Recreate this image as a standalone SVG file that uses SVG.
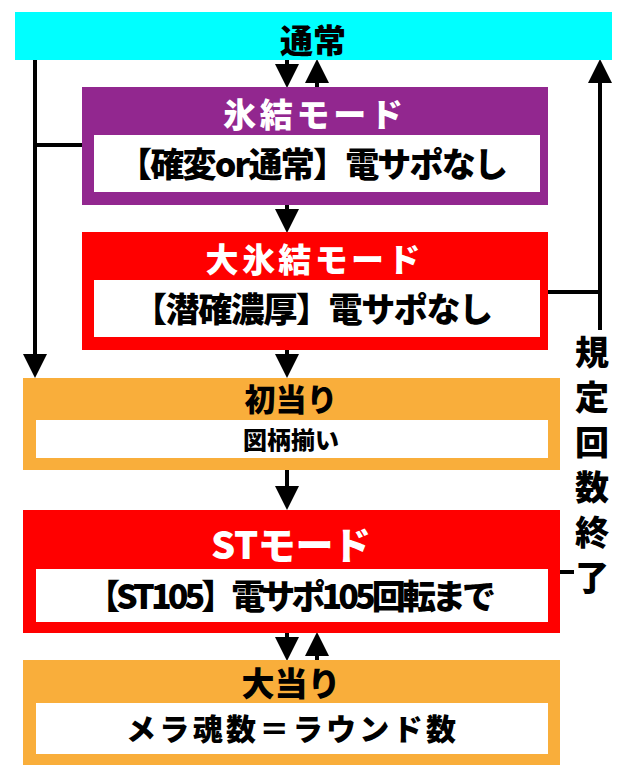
<svg xmlns="http://www.w3.org/2000/svg" width="640" height="780" viewBox="0 0 640 780">
<style>
text{font-family:"Noto Sans CJK JP","Noto Sans",sans-serif;font-weight:900;text-anchor:middle}
.t{font-size:33px}.w{fill:#fff}.b{fill:#000}.s{font-size:34px}
.in{fill:#fff}
.ln{stroke:#000;stroke-width:4;fill:none}
</style>
<defs><marker id="a" markerWidth="6" markerHeight="6" refX="5" refY="3" orient="auto" markerUnits="strokeWidth"><path d="M0,0L6,3L0,6Z"/></marker></defs>
<g id="connectors">
<path class="ln" d="M287,60V84" marker-end="url(#a)"/>
<path class="ln" d="M317,87V63" marker-end="url(#a)"/>
<path class="ln" d="M287,205V229" marker-end="url(#a)"/>
<path class="ln" d="M287,350V374" marker-end="url(#a)"/>
<path class="ln" d="M287,470V506" marker-end="url(#a)"/>
<path class="ln" d="M287,633V657" marker-end="url(#a)"/>
<path class="ln" d="M317,660V636" marker-end="url(#a)"/>
<path class="ln" d="M35,60V374" marker-end="url(#a)"/>
<path class="ln" d="M35,145H82"/>
<path class="ln" d="M548,292H600"/>
<path class="ln" d="M600,330V63" marker-end="url(#a)"/>
<path class="ln" d="M560,572H582"/>
</g>
<g id="n0"><rect x="15" y="12" width="597" height="48" fill="#00ffff"/><text x="313" y="53" font-size="33" class="b">通常</text></g>
<g id="n1"><rect x="82" y="87" width="466" height="118" fill="#92278f"/><text x="313" y="127" class="t w" textLength="180">氷結モード</text><rect x="94" y="135" width="446" height="57" class="in"/><text x="313" y="177" class="s b" textLength="390">【確変or通常】電サポなし</text></g>
<g id="n2"><rect x="82" y="232" width="466" height="118" fill="#ff0000"/><text x="313" y="272" class="t w" textLength="215">大氷結モード</text><rect x="94" y="280" width="446" height="57" class="in"/><text x="313" y="322" class="s b" textLength="360">【潜確濃厚】電サポなし</text></g>
<g id="n3"><rect x="23" y="378" width="537" height="92" fill="#f9ae3b"/><text x="291" y="411" font-size="31" class="b">初当り</text><rect x="36" y="420" width="512" height="38" class="in"/><text x="291" y="449" font-size="24" class="b">図柄揃い</text></g>
<g id="n4"><rect x="23" y="510" width="537" height="123" fill="#ff0000"/><text x="291" y="559" font-size="38" class="w" textLength="160">STモード</text><rect x="36" y="569" width="512" height="53" class="in"/><text x="291" y="609" class="s b" textLength="410">【ST105】電サポ105回転まで</text></g>
<g id="n5"><rect x="23" y="660" width="537" height="105" fill="#f9ae3b"/><text x="291" y="696" class="t b">大当り</text><rect x="36" y="703" width="512" height="51" class="in"/><text x="291" y="740" font-size="30" class="b" textLength="330">メラ魂数＝ラウンド数</text></g>
<g id="lbl"><rect x="574" y="330" width="38" height="265" fill="#fff"/>
<text x="592" y="365" class="s b">規</text><text x="592" y="410" class="s b">定</text><text x="592" y="455" class="s b">回</text><text x="592" y="500" class="s b">数</text><text x="592" y="545" class="s b">終</text><text x="592" y="590" class="s b">了</text></g>
</svg>
